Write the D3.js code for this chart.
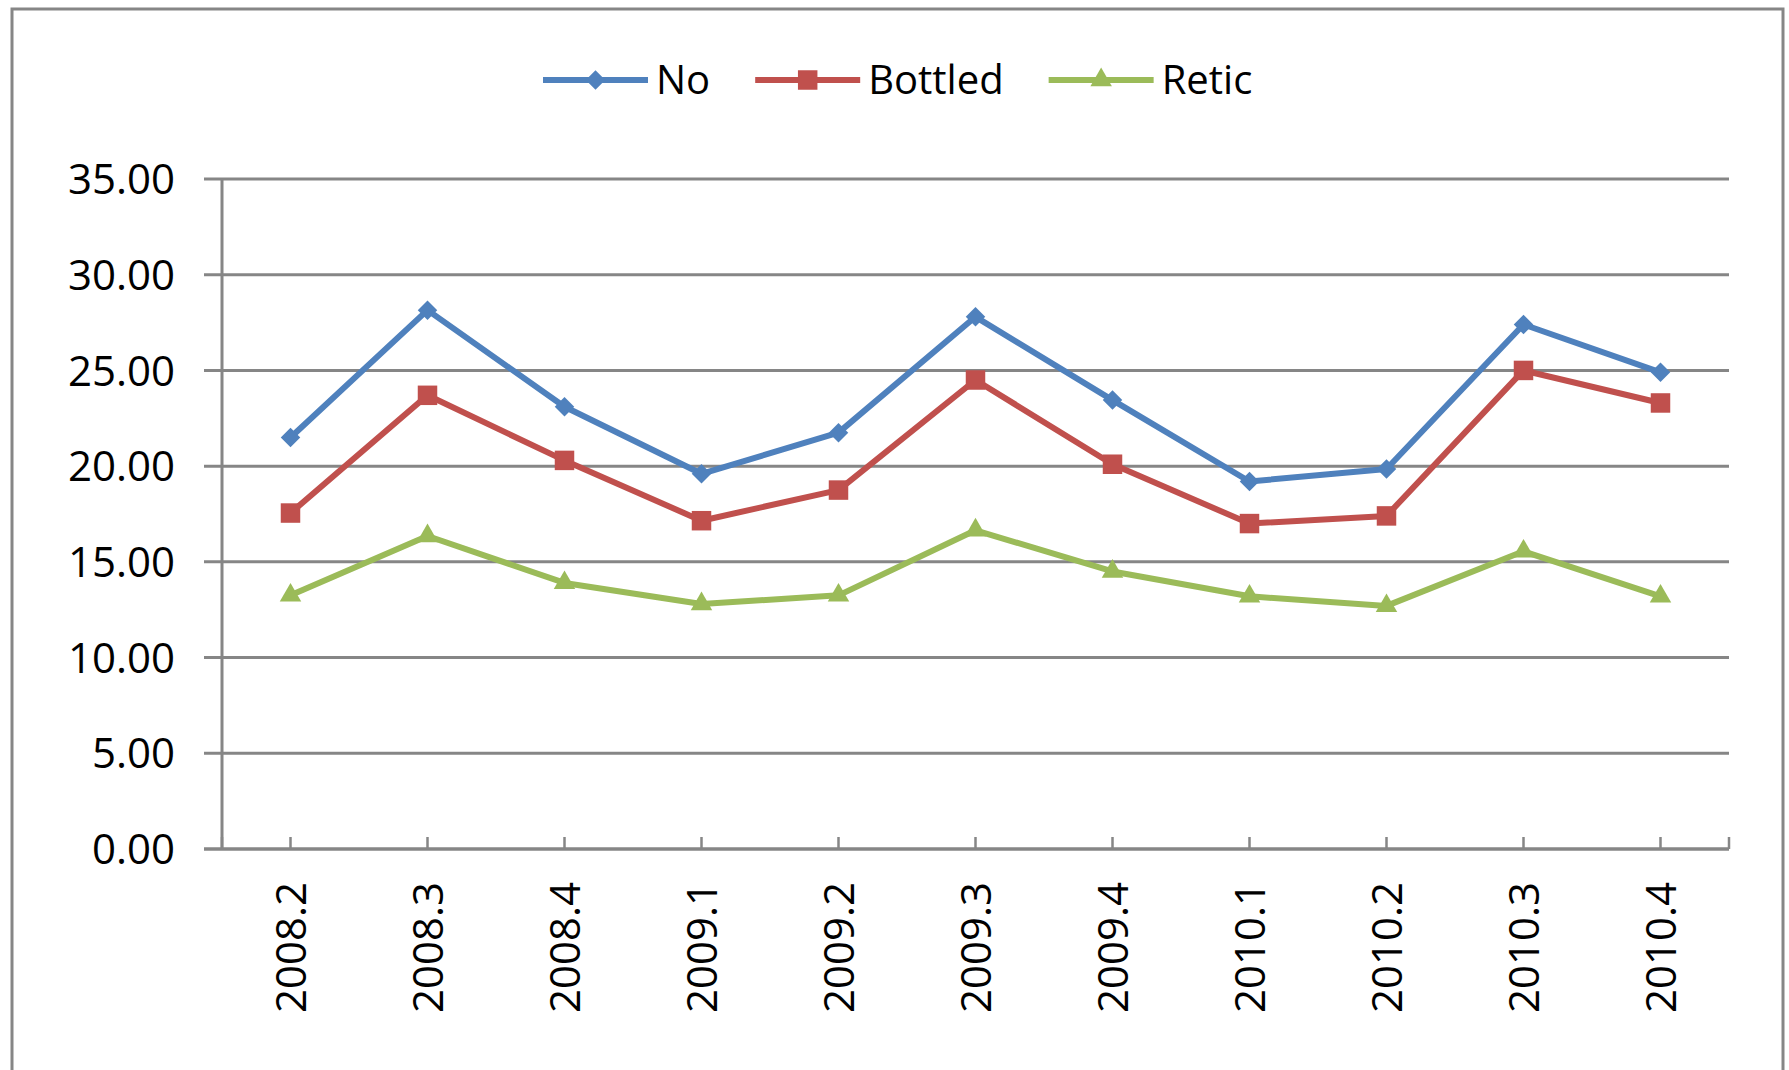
<!DOCTYPE html>
<html>
<head>
<meta charset="utf-8">
<script src="https://cdn.jsdelivr.net/npm/d3@7"></script>
<style>
  html, body { margin: 0; padding: 0; background: #fff; }
  svg { display: block; }
  text { font-family: "Open Sans", "Liberation Sans", sans-serif; fill: #000; }
</style>
</head>
<body>
<svg id="chart" width="1789" height="1070"></svg>
<script>
const categories = ["2008.2","2008.3","2008.4","2009.1","2009.2","2009.3","2009.4","2010.1","2010.2","2010.3","2010.4"];
const seriesNames = ["No","Bottled","Retic"];
const noValues      = [21.5, 28.15, 23.1, 19.6, 21.75, 27.8, 23.45, 19.2, 19.85, 27.4, 24.9];
const bottledValues = [17.55, 23.7, 20.3, 17.15, 18.75, 24.5, 20.1, 17.0, 17.4, 25.0, 23.3];
const reticValues   = [13.25, 16.35, 13.9, 12.8, 13.25, 16.65, 14.5, 13.2, 12.7, 15.55, 13.2];
const yTicks = [0, 5, 10, 15, 20, 25, 30, 35];

(function () {
const colors = {No: "#4F81BD", Bottled: "#C0504D", Retic: "#9BBB59"};
const symbols = {No: d3.symbolSquare, Bottled: d3.symbolSquare, Retic: d3.symbolTriangle};
const symSize = {No: 190, Bottled: 380, Retic: 200};
const symRot = {No: 45, Bottled: 0, Retic: 0};

const series = [
  {name: "No", values: noValues},
  {name: "Bottled", values: bottledValues},
  {name: "Retic", values: reticValues}
];

const svg = d3.select("#chart");
const gridColor = "#868686";

// outer border
svg.append("rect")
  .attr("x", 12).attr("y", 9)
  .attr("width", 1771).attr("height", 1090)
  .attr("fill", "#fff")
  .attr("stroke", gridColor).attr("stroke-width", 3);

const pLeft = 222, pRight = 1729, pTop = 179, pBottom = 849;

const x = d3.scaleBand().domain(categories).range([pLeft, pRight]).padding(0);
const y = d3.scaleLinear().domain([0, 35]).range([pBottom, pTop]);
const cx = c => x(c) + x.bandwidth() / 2;

// gridlines (with left tick extension)
svg.append("g").selectAll("line").data(yTicks).join("line")
  .attr("x1", pLeft - 18).attr("x2", pRight)
  .attr("y1", d => y(d)).attr("y2", d => y(d))
  .attr("stroke", gridColor).attr("stroke-width", 3);

// y axis line
svg.append("line")
  .attr("x1", pLeft).attr("x2", pLeft)
  .attr("y1", y(35)).attr("y2", y(0))
  .attr("stroke", gridColor).attr("stroke-width", 3);

// y labels
svg.append("g").selectAll("text").data(yTicks).join("text")
  .attr("x", 175).attr("y", d => y(d))
  .attr("dy", "0.36em")
  .attr("text-anchor", "end")
  .style("font-size", "42px")
  .text(d => d3.format(".2f")(d));

// x ticks at category centers and ends
const xTickPos = categories.map(cx).concat([pLeft, pRight]);
svg.append("g").selectAll("line").data(xTickPos).join("line")
  .attr("x1", d => d).attr("x2", d => d)
  .attr("y1", pBottom - 12).attr("y2", pBottom)
  .attr("stroke", gridColor).attr("stroke-width", 2.5);

// x labels rotated
svg.append("g").selectAll("text").data(categories).join("text")
  .attr("transform", d => `translate(${cx(d)},882) rotate(-90)`)
  .attr("dy", "0.36em")
  .attr("text-anchor", "end")
  .style("font-size", "42px")
  .text(d => d);

// lines
const line = d3.line()
  .x((d, i) => cx(categories[i]))
  .y(d => y(d));

series.forEach(s => {
  svg.append("path")
    .datum(s.values)
    .attr("d", line)
    .attr("fill", "none")
    .attr("stroke", colors[s.name])
    .attr("stroke-width", 6)
    .attr("stroke-linejoin", "round");
  svg.append("g").selectAll("path").data(s.values).join("path")
    .attr("transform", (d, i) => `translate(${cx(categories[i])},${y(d)}) rotate(${symRot[s.name]})`)
    .attr("d", d3.symbol().type(symbols[s.name]).size(symSize[s.name]))
    .attr("fill", colors[s.name]);
});

// x axis line
svg.append("line")
  .attr("x1", pLeft - 18).attr("x2", pRight)
  .attr("y1", pBottom).attr("y2", pBottom)
  .attr("stroke", gridColor).attr("stroke-width", 3);

// legend
const legend = svg.append("g");
let lx = 543;
const ly = 80;
seriesNames.forEach(name => {
  legend.append("line")
    .attr("x1", lx).attr("x2", lx + 105)
    .attr("y1", ly).attr("y2", ly)
    .attr("stroke", colors[name]).attr("stroke-width", 6);
  legend.append("path")
    .attr("transform", `translate(${lx + 52.5},${ly}) rotate(${symRot[name]})`)
    .attr("d", d3.symbol().type(symbols[name]).size(symSize[name]))
    .attr("fill", colors[name]);
  const t = legend.append("text")
    .attr("x", lx + 113).attr("y", ly)
    .attr("dy", "0.36em")
    .style("font-size", "40px")
    .text(name);
  lx = lx + 113 + t.node().getComputedTextLength() + 45;
});
})();
</script>
</body>
</html>
